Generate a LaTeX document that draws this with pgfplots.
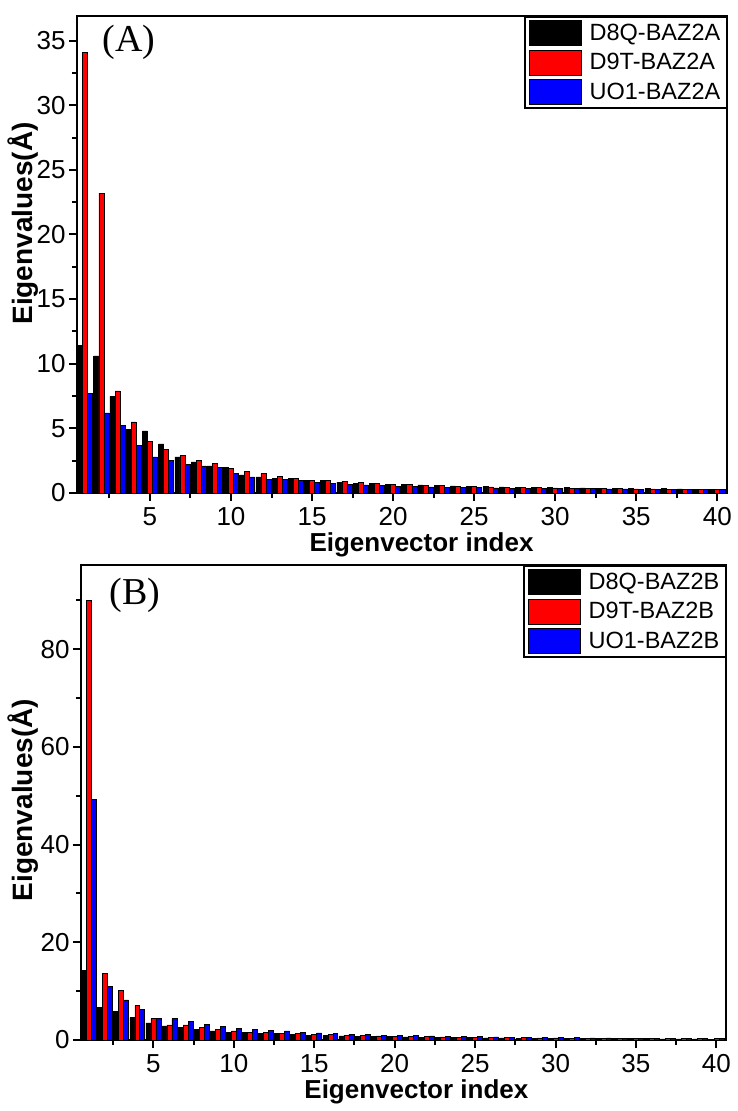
\documentclass[border=0pt]{standalone}
\usepackage{fontspec}
\setmainfont{Liberation Sans}
\newfontfamily\seriffont{Liberation Serif}
\usepackage{pgfplots}
\pgfplotsset{compat=1.18}

\pgfplotstableread{
idx a b c
1 11.4 34.1 7.7
2 10.6 23.2 6.2
3 7.5 7.9 5.2
4 4.9 5.5 3.7
5 4.8 4.0 2.8
6 3.8 3.4 2.5
7 2.8 2.9 2.2
8 2.4 2.5 2.1
9 2.1 2.3 2.0
10 2.0 1.9 1.5
11 1.4 1.7 1.25
12 1.25 1.5 1.05
13 1.15 1.3 1.05
14 1.1 1.15 0.95
15 1.0 1.0 0.85
16 0.95 0.98 0.72
17 0.85 0.9 0.65
18 0.75 0.8 0.62
19 0.72 0.75 0.57
20 0.69 0.67 0.54
21 0.65 0.64 0.5
22 0.62 0.61 0.47
23 0.58 0.57 0.45
24 0.55 0.54 0.43
25 0.52 0.5 0.42
26 0.5 0.48 0.4
27 0.48 0.46 0.38
28 0.46 0.44 0.37
29 0.44 0.42 0.36
30 0.43 0.4 0.35
31 0.41 0.38 0.34
32 0.4 0.36 0.33
33 0.38 0.35 0.32
34 0.37 0.33 0.31
35 0.35 0.32 0.3
36 0.34 0.31 0.29
37 0.33 0.3 0.28
38 0.31 0.28 0.27
39 0.3 0.27 0.26
40 0.29 0.26 0.25
}\tableA

\pgfplotstableread{
idx a b c
1 14.3 90.0 49.3
2 6.7 13.6 11.0
3 5.8 10.2 8.2
4 4.6 7.1 6.2
5 3.5 4.4 4.4
6 2.9 3.1 4.4
7 2.5 3.1 3.8
8 2.25 2.5 3.2
9 1.85 2.1 2.8
10 1.6 1.85 2.4
11 1.5 1.6 2.25
12 1.35 1.55 2.0
13 1.3 1.35 1.85
14 1.15 1.3 1.6
15 1.0 1.2 1.45
16 0.9 1.1 1.3
17 0.85 1.0 1.2
18 0.8 0.9 1.1
19 0.75 0.85 1.0
20 0.7 0.8 0.95
21 0.65 0.75 0.9
22 0.6 0.7 0.85
23 0.55 0.65 0.8
24 0.5 0.6 0.75
25 0.48 0.55 0.7
26 0.45 0.52 0.65
27 0.42 0.5 0.6
28 0.4 0.47 0.55
29 0.38 0.44 0.52
30 0.36 0.42 0.5
31 0.34 0.4 0.47
32 0.32 0.38 0.45
33 0.3 0.36 0.43
34 0.29 0.34 0.41
35 0.27 0.32 0.39
36 0.26 0.31 0.37
37 0.24 0.29 0.35
38 0.23 0.28 0.33
39 0.22 0.27 0.32
40 0.2 0.25 0.3
}\tableB

\pgfplotsset{
 mystyle/.style={
  scale only axis,
  ybar,
  bar width=0.31,
  xmin=0.5, xmax=40.6,
  ymin=0,
  xtick={5,10,...,40},
  minor xtick={2.5,7.5,...,37.5},
  tick align=outside,
  xtick pos=bottom, ytick pos=left,
  major tick length=8pt, minor tick length=5pt,
  axis line style={line width=2.2pt},
  every major tick/.append style={line width=2pt, black},
  every minor tick/.append style={line width=2pt, black},
  tick label style={font=\fontsize{26}{30}\selectfont},
  xticklabel style={yshift=-3pt},
  /pgf/number format/assume math mode=true,
  xlabel style={font=\bfseries\fontsize{26}{30}\selectfont},
  ylabel style={font=\bfseries\fontsize{28}{32}\selectfont},
  xlabel={Eigenvector index},
  ylabel={Eigenvalues(Å)},
  legend cell align=left,
  legend style={at={(1,1)}, anchor=north east, draw=black, line width=1.5pt,
    font=\fontsize{23.5}{26}\selectfont, inner xsep=4pt, inner ysep=3pt,
    row sep=4pt},
  legend image code/.code={\draw[#1,draw=black,line width=0.8pt] (0pt,-12.5pt) rectangle (52pt,12.5pt);},
 },
 sa/.style={fill=black, draw=black, line width=0.6pt, bar shift=-0.31},
 sb/.style={fill=red, draw=black, line width=0.6pt, bar shift=0},
 sc/.style={fill=blue, draw=black, line width=0.6pt, bar shift=0.31},
}

\begin{document}
\begin{tikzpicture}
\useasboundingbox (-77pt,16pt) rectangle (660pt,-1095pt);
\begin{axis}[mystyle, width=650pt, height=477pt, at={(0pt,0pt)}, anchor=north west,
  ymax=36.9, ytick={0,5,...,35}, minor ytick={2.5,7.5,...,32.5},
  ylabel style={at={(axis description cs:-0.083,0.565)}, anchor=center},
  xlabel style={at={(axis description cs:0.53,0)}, yshift=-52pt, anchor=center}]
\addplot[sa] table[x=idx,y=a] {\tableA};
\addplot[sb] table[x=idx,y=b] {\tableA};
\addplot[sc] table[x=idx,y=c] {\tableA};
\legend{\hspace{6pt}D8Q-BAZ2A\hspace{13pt},\hspace{6pt}D9T-BAZ2A\hspace{13pt},\hspace{6pt}UO1-BAZ2A\hspace{13pt}}
\node[font=\seriffont\fontsize{38}{42}\selectfont] at (rel axis cs:0.08,0.945) {(A)};
\end{axis}
\begin{axis}[mystyle, width=645pt, height=475pt, at={(4pt,-549pt)}, anchor=north west,
  ymax=97.2, ytick={0,20,...,80}, minor ytick={10,30,...,90},
  ylabel style={at={(axis description cs:-0.09,0.505)}, anchor=center},
  xlabel style={at={(axis description cs:0.52,0)}, yshift=-52pt, anchor=center}]
\addplot[sa] table[x=idx,y=a] {\tableB};
\addplot[sb] table[x=idx,y=b] {\tableB};
\addplot[sc] table[x=idx,y=c] {\tableB};
\legend{\hspace{6pt}D8Q-BAZ2B\hspace{13pt},\hspace{6pt}D9T-BAZ2B\hspace{13pt},\hspace{6pt}UO1-BAZ2B\hspace{13pt}}
\node[font=\seriffont\fontsize{38}{42}\selectfont] at (rel axis cs:0.084,0.937) {(B)};
\end{axis}
\end{tikzpicture}
\end{document}
